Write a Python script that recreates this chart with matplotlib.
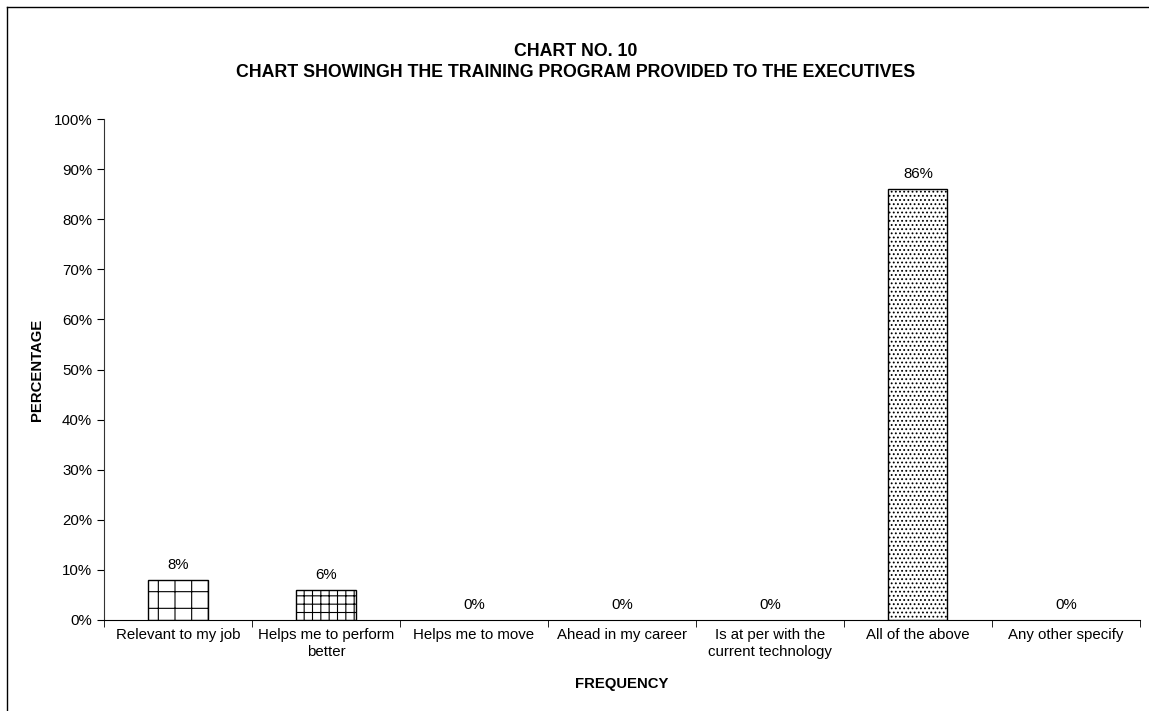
import numpy as np
import matplotlib.pyplot as plt
from matplotlib.lines import Line2D
from matplotlib.ticker import PercentFormatter

plt.rcParams['font.family'] = ['Liberation Sans', 'DejaVu Sans']
plt.rcParams['hatch.linewidth'] = 0.8

# survey responses
categories = ["Relevant to my job", "Helps me to perform\nbetter", "Helps me to move",
              "Ahead in my career", "Is at per with the\ncurrent technology",
              "All of the above", "Any other specify"]
percentages = [8, 6, 0, 0, 0, 86, 0]
hatches = ["+", "++", "", "", "", "....", ""]

fig = plt.figure(figsize=(11.49, 7.11), dpi=100)
ax = fig.add_axes([0.0905, 0.128, 0.9015, 0.7046])

x = np.arange(len(categories))
bars = ax.bar(x, percentages, width=0.4, color="white", edgecolor="black",
              linewidth=1.0, hatch=hatches)
for b, v in zip(bars, percentages):
    if v == 0:
        b.set_visible(False)

for xi, v in zip(x, percentages):
    ax.annotate(f"{v}%", (xi, v), xytext=(0, 6), textcoords="offset points",
                ha="center", va="bottom", fontsize=10.8)

ax.set_xlim(-0.5, len(categories) - 0.5)
ax.set_ylim(0, 100)
ax.set_yticks(np.arange(0, 101, 10))
ax.yaxis.set_major_formatter(PercentFormatter(decimals=0))
ax.set_xticks(x)
ax.set_xticklabels(categories, fontsize=10.8)
ax.set_xticks(np.arange(-0.5, len(categories)), minor=True)
ax.tick_params(axis="x", which="major", length=0, pad=6)
ax.tick_params(axis="x", which="minor", length=5, direction="out")
ax.tick_params(axis="y", labelsize=10.8, length=5, direction="out")

for side in ["top", "right"]:
    ax.spines[side].set_visible(False)
ax.spines["left"].set_color("#333333")

ax.set_ylabel("PERCENTAGE", fontsize=10.7, fontweight="bold", labelpad=7)
ax.set_xlabel("FREQUENCY", fontsize=10.7, fontweight="bold", labelpad=13)

fig.text(0.501, 0.927, "CHART NO. 10", ha="center", va="center",
         fontsize=12.8, fontweight="bold")
fig.text(0.501, 0.898, "CHART SHOWINGH THE TRAINING PROGRAM PROVIDED TO THE EXECUTIVES",
         ha="center", va="center", fontsize=12.8, fontweight="bold")

# outer chart border (left and top edges)
fig.add_artist(Line2D([7 / 1149, 7 / 1149], [0, 1 - 7 / 711], color="black", lw=1))
fig.add_artist(Line2D([7 / 1149, 1], [1 - 7 / 711, 1 - 7 / 711], color="black", lw=1))

fig.savefig("out.png", dpi=100)
